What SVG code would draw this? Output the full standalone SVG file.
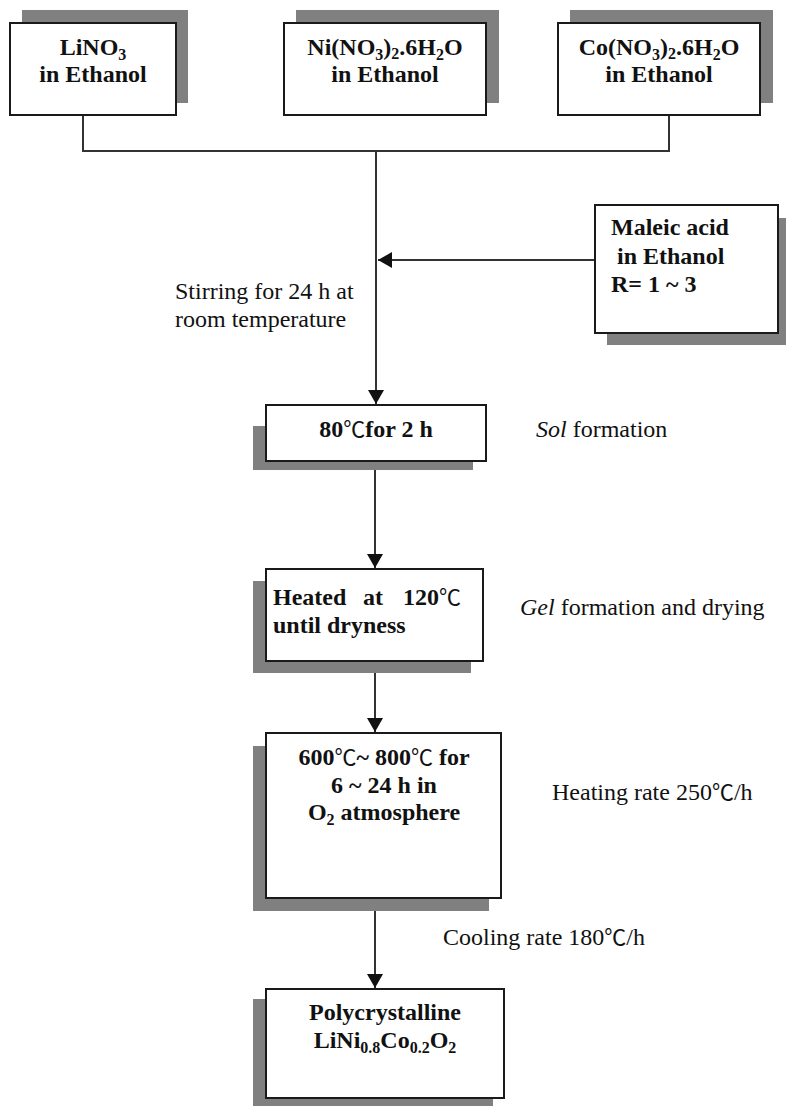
<svg xmlns="http://www.w3.org/2000/svg" width="786" height="1106" viewBox="0 0 786 1106">
<defs>
<style>
.box{fill:#fff;stroke:#1a1a1a;stroke-width:2}
.shd{fill:#808080;stroke:none}
.ln{fill:none;stroke:#333;stroke-width:2}
text{font-family:"Liberation Serif","Times New Roman","Noto Sans CJK SC",serif;font-size:24px;fill:#111}
.b{font-weight:bold}
.sub{font-size:16px}
.deg{font-weight:normal;font-family:"Noto Sans CJK SC","Liberation Serif",serif;font-size:22px}
.it{font-style:italic}
</style>
<marker id="ah" markerUnits="userSpaceOnUse" markerWidth="15" markerHeight="16" refX="14" refY="8" orient="auto">
<path d="M0,0 L14,8 L0,16 z" fill="#111"/>
</marker>
</defs>
<rect width="786" height="1106" fill="#fff"/>

<g id="connectors">
<polyline class="ln" points="83,115 83,151 669,151 669,115"/>
<line class="ln" x1="376" y1="151" x2="376" y2="404" marker-end="url(#ah)"/>
<line class="ln" x1="595" y1="260" x2="378" y2="260" marker-end="url(#ah)"/>
<line class="ln" x1="375" y1="461" x2="375" y2="568" marker-end="url(#ah)"/>
<line class="ln" x1="375" y1="661" x2="375" y2="732" marker-end="url(#ah)"/>
<line class="ln" x1="375" y1="898" x2="375" y2="988" marker-end="url(#ah)"/>
</g>

<g id="n-lino3">
<rect class="shd" x="22" y="10" width="166" height="93"/>
<rect class="box" x="10" y="23" width="166" height="92"/>
<text class="b" x="93" y="55" text-anchor="middle">LiNO<tspan class="sub" dy="5">3</tspan></text>
<text class="b" x="93" y="82" text-anchor="middle">in Ethanol</text>
</g>

<g id="n-ni">
<rect class="shd" x="296" y="10" width="203" height="93"/>
<rect class="box" x="284" y="23" width="202" height="92"/>
<text class="b" x="385" y="55" text-anchor="middle">Ni(NO<tspan class="sub" dy="5">3</tspan><tspan dy="-5">)</tspan><tspan class="sub" dy="4">2</tspan><tspan dy="-4">.6H</tspan><tspan class="sub" dy="5">2</tspan><tspan dy="-5">O</tspan></text>
<text class="b" x="385" y="82" text-anchor="middle">in Ethanol</text>
</g>

<g id="n-co">
<rect class="shd" x="570" y="10" width="203" height="93"/>
<rect class="box" x="558" y="23" width="202" height="92"/>
<text class="b" x="659" y="55" text-anchor="middle">Co(NO<tspan class="sub" dy="5">3</tspan><tspan dy="-5">)</tspan><tspan class="sub" dy="4">2</tspan><tspan dy="-4">.6H</tspan><tspan class="sub" dy="5">2</tspan><tspan dy="-5">O</tspan></text>
<text class="b" x="659" y="82" text-anchor="middle">in Ethanol</text>
</g>

<g id="n-maleic">
<rect class="shd" x="607" y="218" width="183" height="127"/>
<rect class="box" x="595" y="205" width="183" height="128"/>
<text class="b" x="611" y="235">Maleic acid</text>
<text class="b" x="617" y="264">in Ethanol</text>
<text class="b" x="611" y="292">R= 1 ~ 3</text>
</g>

<g id="l-stirring">
<text x="175" y="299">Stirring for 24 h at</text>
<text x="175" y="327">room temperature</text>
</g>

<g id="n-sol">
<rect class="shd" x="253" y="426" width="220" height="44"/>
<rect class="box" x="266" y="405" width="220" height="56"/>
<text class="b" x="376" y="437" text-anchor="middle">80<tspan class="deg">℃</tspan>for 2 h</text>
</g>
<text x="536" y="437"><tspan class="it">Sol</tspan> formation</text>

<g id="n-gel">
<rect class="shd" x="253" y="581" width="218" height="92"/>
<rect class="box" x="266" y="569" width="217" height="92"/>
<text class="b" y="605"><tspan x="273">Heated</tspan><tspan x="363">at</tspan><tspan x="403">120</tspan><tspan class="deg">℃</tspan></text>
<text class="b" x="273" y="633">until dryness</text>
</g>
<text x="520" y="615"><tspan class="it">Gel</tspan> formation and drying</text>

<g id="n-calc">
<rect class="shd" x="253" y="746" width="236" height="165"/>
<rect class="box" x="266" y="733" width="235" height="165"/>
<text class="b" x="384" y="765" text-anchor="middle">600<tspan class="deg">℃</tspan>~ 800<tspan class="deg">℃</tspan> for</text>
<text class="b" x="384" y="793" text-anchor="middle">6 ~ 24 h in</text>
<text class="b" x="384" y="820" text-anchor="middle">O<tspan class="sub" dy="5">2</tspan><tspan dy="-5"> atmosphere</tspan></text>
</g>
<text x="552" y="800">Heating rate 250<tspan class="deg">℃</tspan>/h</text>
<text x="443" y="945">Cooling rate 180<tspan class="deg">℃</tspan>/h</text>

<g id="n-product">
<rect class="shd" x="253" y="999" width="240" height="110"/>
<rect class="box" x="266" y="989" width="238" height="109"/>
<text class="b" x="385" y="1020" text-anchor="middle">Polycrystalline</text>
<text class="b" x="385" y="1048" text-anchor="middle">LiNi<tspan class="sub" dy="5">0.8</tspan><tspan dy="-5">Co</tspan><tspan class="sub" dy="5">0.2</tspan><tspan dy="-5">O</tspan><tspan class="sub" dy="5">2</tspan></text>
</g>
</svg>
